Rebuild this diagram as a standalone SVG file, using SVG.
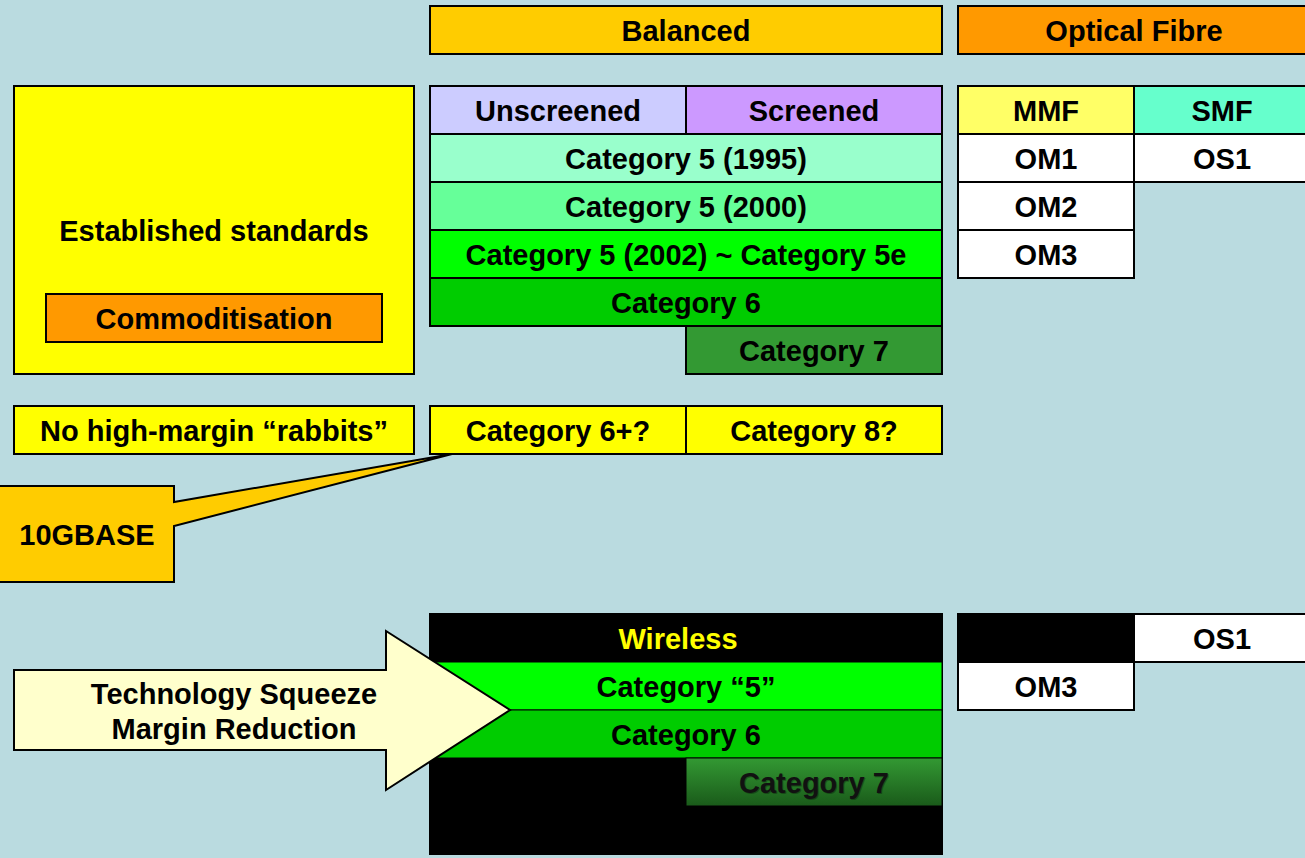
<svg xmlns="http://www.w3.org/2000/svg" width="1305" height="858" viewBox="0 0 1305 858">
<style>
.b{stroke:#000;stroke-width:2}
text{font-family:"Liberation Sans",Arial,sans-serif;font-weight:bold;font-size:29px;fill:#000;text-anchor:middle}
</style>
<defs>
<linearGradient id="g7" x1="0" y1="0" x2="0" y2="1"><stop offset="0" stop-color="#339933"/><stop offset="1" stop-color="#1a5a1a"/></linearGradient>
</defs>
<rect width="1305" height="858" fill="#BADBE0"/>
<g id="connectors">
<path class="b" d="M-2,486H174V502L452,454L174,526V582H-2Z" fill="#FFCC00"/>
<text x="87" y="545">10GBASE</text>
</g>
<g id="balanced"><rect class="b" x="430" y="6" width="512" height="48" fill="#FFCC00"/><text x="686" y="41">Balanced</text></g>
<g id="optical"><rect class="b" x="958" y="6" width="360" height="48" fill="#FF9900"/><text x="1134" y="41">Optical Fibre</text></g>
<g id="established"><rect class="b" x="14" y="86" width="400" height="288" fill="#FFFF00"/><text x="214" y="241">Established standards</text></g>
<g id="commod"><rect class="b" x="46" y="294" width="336" height="48" fill="#FF9900"/><text x="214" y="329">Commoditisation</text></g>
<g id="unscreened"><rect class="b" x="430" y="86" width="256" height="48" fill="#CCCCFF"/><text x="558" y="121">Unscreened</text></g>
<g id="screened"><rect class="b" x="686" y="86" width="256" height="48" fill="#CC99FF"/><text x="814" y="121">Screened</text></g>
<g id="cat5-1995"><rect class="b" x="430" y="134" width="512" height="48" fill="#99FFCC"/><text x="686" y="169">Category 5 (1995)</text></g>
<g id="cat5-2000"><rect class="b" x="430" y="182" width="512" height="48" fill="#66FF99"/><text x="686" y="217">Category 5 (2000)</text></g>
<g id="cat5e"><rect class="b" x="430" y="230" width="512" height="48" fill="#00FF00"/><text x="686" y="265">Category 5 (2002) ~ Category 5e</text></g>
<g id="cat6"><rect class="b" x="430" y="278" width="512" height="48" fill="#00CC00"/><text x="686" y="313">Category 6</text></g>
<g id="cat7"><rect class="b" x="686" y="326" width="256" height="48" fill="#339933"/><text x="814" y="361">Category 7</text></g>
<g id="mmf"><rect class="b" x="958" y="86" width="176" height="48" fill="#FFFF66"/><text x="1046" y="121">MMF</text></g>
<g id="smf"><rect class="b" x="1134" y="86" width="184" height="48" fill="#66FFCC"/><text x="1222" y="121">SMF</text></g>
<g id="om1"><rect class="b" x="958" y="134" width="176" height="48" fill="#FFFFFF"/><text x="1046" y="169">OM1</text></g>
<g id="os1"><rect class="b" x="1134" y="134" width="184" height="48" fill="#FFFFFF"/><text x="1222" y="169">OS1</text></g>
<g id="om2"><rect class="b" x="958" y="182" width="176" height="48" fill="#FFFFFF"/><text x="1046" y="217">OM2</text></g>
<g id="om3"><rect class="b" x="958" y="230" width="176" height="48" fill="#FFFFFF"/><text x="1046" y="265">OM3</text></g>
<g id="rabbits"><rect class="b" x="14" y="406" width="400" height="48" fill="#FFFF00"/><text x="214" y="441">No high-margin “rabbits”</text></g>
<g id="cat6plus"><rect class="b" x="430" y="406" width="256" height="48" fill="#FFFF00"/><text x="558" y="441">Category 6+?</text></g>
<g id="cat8"><rect class="b" x="686" y="406" width="256" height="48" fill="#FFFF00"/><text x="814" y="441">Category 8?</text></g>
<g id="future">
<rect class="b" x="430" y="614" width="512" height="240" fill="#000"/>
<text x="678" y="649" style="fill:#FFFF00">Wireless</text>
<rect x="430" y="662" width="512" height="48" fill="#00FF00" stroke="#000" stroke-width="1"/>
<text x="686" y="697">Category “5”</text>
<rect x="430" y="710" width="512" height="48" fill="#00CC00" stroke="#000" stroke-width="1"/>
<text x="686" y="745">Category 6</text>
<rect x="686" y="758" width="256" height="48" fill="url(#g7)" stroke="#000" stroke-width="1"/>
<text x="815" y="794" style="fill:#000;opacity:0.3">Category 7</text>
<text x="814" y="793" style="fill:#111">Category 7</text>
</g>
<g id="fibre-future">
<rect class="b" x="958" y="614" width="176" height="48" fill="#000"/>
<rect class="b" x="1134" y="614" width="184" height="48" fill="#FFFFFF"/><text x="1222" y="649">OS1</text>
<rect class="b" x="958" y="662" width="176" height="48" fill="#FFFFFF"/><text x="1046" y="697">OM3</text>
</g>
<g id="squeeze">
<path class="b" d="M14,670H386V631L510,710L386,790V750H14Z" fill="#FFFFCC"/>
<text x="234" y="704">Technology Squeeze</text>
<text x="234" y="739">Margin Reduction</text>
</g>
</svg>
